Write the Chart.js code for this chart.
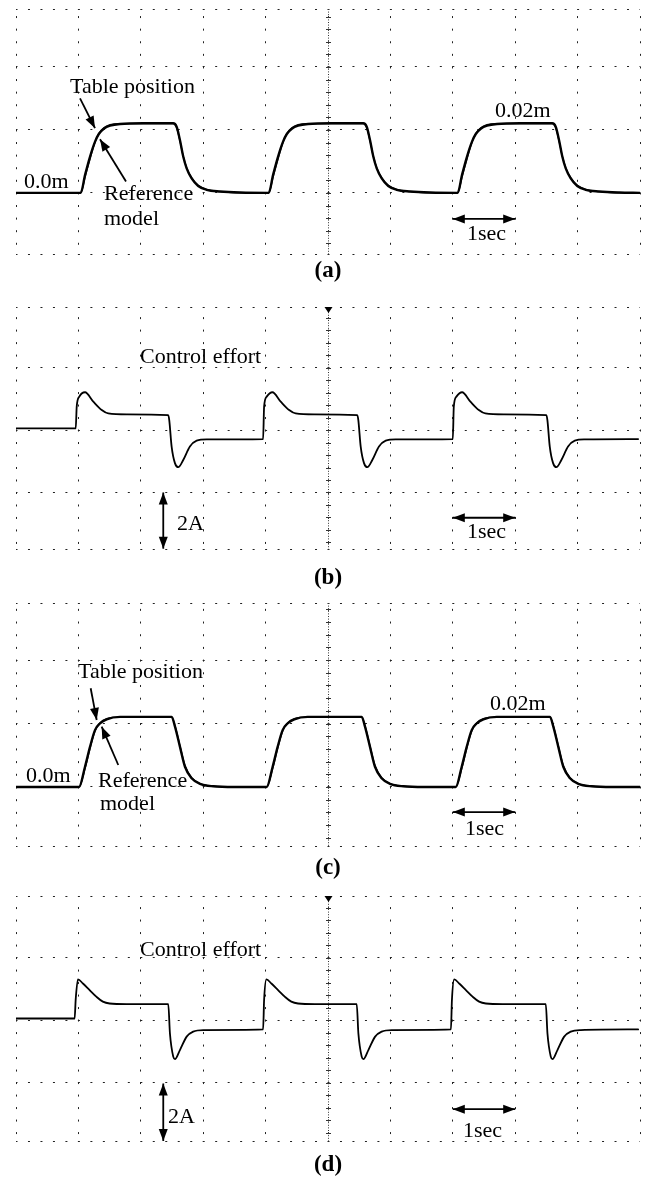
<!DOCTYPE html>
<html>
<head>
<meta charset="utf-8">
<script src="https://cdn.jsdelivr.net/npm/chart.js@4"></script>
<style>
  body { margin: 0; background: #fff; }
  #page { position: relative; width: 646px; height: 1182px; overflow: hidden; background: #fff;
          font-family: "Liberation Serif", "Times New Roman", serif; color: #000; }
  canvas { position: absolute; left: 0; }
  .lbl { position: absolute; font-size: 22px; line-height: 22px; white-space: nowrap; }
  .cap { position: absolute; font-size: 23px; line-height: 23px; font-weight: bold; white-space: nowrap; transform: translateX(-50%); }
</style>
</head>
<body>
<div id="page">
  <canvas id="pa" width="646" height="264" style="top:0px"></canvas>
  <canvas id="pb" width="646" height="262" style="top:297px"></canvas>
  <canvas id="pc" width="646" height="263" style="top:593px"></canvas>
  <canvas id="pd" width="646" height="265" style="top:886px"></canvas>
</div>
<script>
// time axis, 1 sec per division
const xTicks = [0, 1, 2, 3, 4, 5, 6, 7, 8, 9, 10];

// position traces (m); the 0.02m plateau sits about 1.1 div above 0.0m
const posPerDiv = 0.02 / 1.1;

// (a) edges (s) and edge shapes
const aRiseAt = [1.037, 4.05, 7.078];
const aFallAt = [2.52, 5.566, 8.595];
const aRiseDt = [0, 0.07, 0.15, 0.23, 0.29, 0.37, 0.47, 0.63, 1.0];
const aTableRise = [0, 0.0052, 0.0105, 0.0148, 0.0170, 0.0185, 0.0194, 0.0199, 0.0201];
const aRefRise = [0, 0.0045, 0.0098, 0.0146, 0.0171, 0.0188, 0.0197, 0.0200, 0.0200];
const aFallDt = [0, 0.054, 0.107, 0.16, 0.215, 0.295, 0.40, 0.535, 0.75, 1.07];
const aTableFall = [0.0201, 0.0191, 0.0153, 0.0105, 0.0071, 0.0042, 0.0020, 0.0009, 0.0004, 0.0001];
const aRefFall = [0.0200, 0.0188, 0.0150, 0.0106, 0.0073, 0.0044, 0.0022, 0.0010, 0.0004, 0];

// (c)
const cRiseAt = [1.01, 4.017, 7.047];
const cFallAt = [2.495, 5.54, 8.558];
const cRiseDt = [0, 0.096, 0.176, 0.256, 0.336, 0.443, 0.657, 1.0];
const cTableRise = [0, 0.0058, 0.0115, 0.0163, 0.0182, 0.0194, 0.0201, 0.0201];
const cRefRise = [0, 0.0052, 0.0110, 0.0160, 0.0184, 0.0196, 0.0200, 0.0200];
const cFallDt = [0, 0.053, 0.133, 0.213, 0.32, 0.454, 0.668, 1.0];
const cTableFall = [0.0201, 0.0173, 0.0115, 0.0058, 0.0025, 0.0009, 0.0002, 0];
const cRefFall = [0.0200, 0.0176, 0.0118, 0.0062, 0.0027, 0.0010, 0.0002, 0];

// control effort (A), 2A per division
const ampPerDiv = 2;

// (b)
const bInit = 0.05, bHigh = 0.48, bLow = -0.29;
const bUpAt = [0.957, 3.96, 7.0];
const bDownAt = [2.44, 5.47, 8.5];
const bUpDt = [0.016, 0.058, 0.149, 0.282, 0.417, 0.522, 0.817];
const bUpA = [0.75, 1.07, 1.21, 0.91, 0.64, 0.53, 0.50];
const bDownDt = [0.016, 0.054, 0.107, 0.16, 0.24, 0.347, 0.455, 0.615];
const bDownA = [0.32, -0.53, -1.06, -1.19, -0.96, -0.53, -0.34, -0.30];

// (d)
const dInit = 0.05, dHigh = 0.51, dLow = -0.30;
const dUpAt = [0.94, 3.96, 6.97];
const dDownAt = [2.44, 5.46, 8.49];
const dUpDt = [0.016, 0.053, 0.133, 0.24, 0.347, 0.452, 0.56, 0.83];
const dUpA = [0.64, 1.30, 1.17, 0.96, 0.75, 0.59, 0.53, 0.51];
const dDownDt = [0.027, 0.08, 0.107, 0.187, 0.295, 0.40, 0.56];
const dDownA = [-0.43, -1.17, -1.25, -0.96, -0.53, -0.37, -0.32];

function buildPos(riseAt, fallAt, riseDt, riseM, fallDt, fallM) {
  const pts = [{ x: 0, y: 0 }];
  for (let i = 0; i < riseAt.length; i++) {
    riseDt.forEach((d, k) => pts.push({ x: riseAt[i] + d, y: riseM[k] }));
    fallDt.forEach((d, k) => pts.push({ x: fallAt[i] + d, y: fallM[k] }));
  }
  pts.push({ x: 10, y: 0 });
  return pts;
}

function buildAmp(init, upAt, upDt, upA, high, downAt, downDt, downA, low) {
  const pts = [{ x: 0, y: init }];
  let level = init;
  for (let i = 0; i < upAt.length; i++) {
    pts.push({ x: upAt[i], y: level });
    upDt.forEach((d, k) => pts.push({ x: upAt[i] + d, y: upA[k] }));
    pts.push({ x: downAt[i], y: high });
    downDt.forEach((d, k) => pts.push({ x: downAt[i] + d, y: downA[k] }));
    level = low;
  }
  pts.push({ x: 9.97, y: low });
  return pts;
}

function drawArrow(ctx, x1, y1, x2, y2, both) {
  const ang = Math.atan2(y2 - y1, x2 - x1);
  const head = (hx, hy, a) => {
    ctx.beginPath();
    ctx.moveTo(hx, hy);
    ctx.lineTo(hx - 12 * Math.cos(a) + 4.5 * Math.sin(a), hy - 12 * Math.sin(a) - 4.5 * Math.cos(a));
    ctx.lineTo(hx - 12 * Math.cos(a) - 4.5 * Math.sin(a), hy - 12 * Math.sin(a) + 4.5 * Math.cos(a));
    ctx.closePath();
    ctx.fill();
  };
  ctx.lineWidth = 1.8;
  ctx.beginPath();
  ctx.moveTo(x1, y1);
  ctx.lineTo(x2, y2);
  ctx.stroke();
  head(x2, y2, ang);
  if (both) head(x1, y1, ang + Math.PI);
}

// centre graticule, trigger mark and arrows
const scopeMarks = {
  id: 'scopeMarks',
  beforeDatasetsDraw(chart, args, opts) {
    const { ctx, chartArea: a, scales: { x, y } } = chart;
    ctx.save();
    ctx.strokeStyle = '#333';
    ctx.lineWidth = 1;
    const cx = Math.round(x.getPixelForValue(5)) + 0.5;
    ctx.setLineDash([1, 1.6]);
    ctx.beginPath();
    ctx.moveTo(cx, a.top);
    ctx.lineTo(cx, a.bottom);
    ctx.stroke();
    ctx.setLineDash([]);
    const y0 = y.getPixelForValue(0);
    const step = (y0 - y.getPixelForValue(opts.yDiv)) / 5;
    for (let k = -25; k <= 25; k++) {
      const py = Math.round(y0 + k * step) + 0.5;
      if (py < a.top || py > a.bottom) continue;
      ctx.beginPath();
      ctx.moveTo(cx - 2.5, py);
      ctx.lineTo(cx + 2.5, py);
      ctx.stroke();
    }
    if (opts.trigger) {
      ctx.fillStyle = '#000';
      ctx.beginPath();
      ctx.moveTo(cx - 4, a.top);
      ctx.lineTo(cx + 4, a.top);
      ctx.lineTo(cx, a.top + 6);
      ctx.closePath();
      ctx.fill();
    }
    ctx.restore();
  },
  afterDatasetsDraw(chart, args, opts) {
    const { ctx, scales: { x, y } } = chart;
    ctx.save();
    ctx.strokeStyle = '#000';
    ctx.fillStyle = '#000';
    (opts.arrows || []).forEach(ar => {
      drawArrow(ctx, x.getPixelForValue(ar.from[0]), y.getPixelForValue(ar.from[1]),
        x.getPixelForValue(ar.to[0]), y.getPixelForValue(ar.to[1]), ar.both);
    });
    ctx.restore();
  }
};

function scope(id, datasets, yMin, yMax, yTicks, yDiv, pad, marks) {
  return new Chart(document.getElementById(id), {
    type: 'line',
    data: { datasets: datasets },
    plugins: [scopeMarks],
    options: {
      responsive: false,
      animation: false,
      devicePixelRatio: 1,
      layout: { padding: pad },
      elements: { point: { radius: 0 }, line: { cubicInterpolationMode: 'monotone', borderCapStyle: 'round', borderJoinStyle: 'round' } },
      plugins: {
        legend: { display: false },
        tooltip: { enabled: false },
        scopeMarks: Object.assign({ yDiv: yDiv }, marks)
      },
      scales: {
        x: {
          type: 'linear', min: 0, max: 10,
          afterBuildTicks: s => { s.ticks = xTicks.map(v => ({ value: v })); },
          ticks: { display: false },
          grid: { color: '#222', lineWidth: 1, drawTicks: false },
          border: {
            display: false,
            dash: c => {
              const ys = c.chart.scales.y;
              const st = (ys.getPixelForValue(0) - ys.getPixelForValue(yDiv)) / 5;
              return [2, st - 2];
            },
            dashOffset: c => {
              const ys = c.chart.scales.y;
              const st = (ys.getPixelForValue(0) - ys.getPixelForValue(yDiv)) / 5;
              return -((ys.getPixelForValue(0) - ys.top) % st) + 0.5;
            }
          }
        },
        y: {
          type: 'linear', min: yMin, max: yMax,
          afterBuildTicks: s => { s.ticks = yTicks.map(v => ({ value: v })); },
          ticks: { display: false },
          grid: { color: '#222', lineWidth: 1, drawTicks: false },
          border: { display: false, dash: [2, 10.48], dashOffset: 0.5 }
        }
      }
    }
  });
}

function posSets(tableRise, tableFall, refRise, refFall, riseAt, fallAt, riseDt, fallDt) {
  return [
    { label: 'Table position', data: buildPos(riseAt, fallAt, riseDt, tableRise, fallDt, tableFall),
      borderColor: '#000', borderWidth: 2.4, fill: false },
    { label: 'Reference model', data: buildPos(riseAt, fallAt, riseDt, refRise, fallDt, refFall),
      borderColor: '#111', borderWidth: 1.3, fill: false }
  ];
}

// (a)
const aMin = -0.97 * posPerDiv, aMax = 2.92 * posPerDiv;
scope('pa', posSets(aTableRise, aTableFall, aRefRise, aRefFall, aRiseAt, aFallAt, aRiseDt, aFallDt),
  aMin, aMax, [aMin, 0, posPerDiv, 2 * posPerDiv, aMax], posPerDiv,
  { top: 9, bottom: 10, left: 16, right: 6 },
  { arrows: [
    { from: [1.026, 0.0273], to: [1.266, 0.0187] },
    { from: [1.763, 0.0033], to: [1.346, 0.0155] },
    { from: [7, -0.0075], to: [8, -0.0075], both: true }
  ] });

// (b)
scope('pb', [{ label: 'Control effort', data: buildAmp(bInit, bUpAt, bUpDt, bUpA, bHigh, bDownAt, bDownDt, bDownA, bLow),
    borderColor: '#000', borderWidth: 1.8, fill: false }],
  -3.81, 3.94, [-3.81, -2, 0, 2, 3.94], ampPerDiv,
  { top: 10, bottom: 10, left: 16, right: 6 },
  { trigger: true, arrows: [
    { from: [2.36, -2.0], to: [2.36, -3.8], both: true },
    { from: [7, -2.81], to: [8, -2.81], both: true }
  ] });

// (c)
const cMin = -0.93 * posPerDiv, cMax = 2.90 * posPerDiv;
scope('pc', posSets(cTableRise, cTableFall, cRefRise, cRefFall, cRiseAt, cFallAt, cRiseDt, cFallDt),
  cMin, cMax, [cMin, 0, posPerDiv, 2 * posPerDiv, cMax], posPerDiv,
  { top: 10, bottom: 10, left: 16, right: 6 },
  { arrows: [
    { from: [1.197, 0.0283], to: [1.293, 0.0192] },
    { from: [1.639, 0.0063], to: [1.373, 0.0173] },
    { from: [7, -0.0072], to: [8, -0.0072], both: true }
  ] });

// (d)
scope('pd', [{ label: 'Control effort', data: buildAmp(dInit, dUpAt, dUpDt, dUpA, dHigh, dDownAt, dDownDt, dDownA, dLow),
    borderColor: '#000', borderWidth: 1.8, fill: false }],
  -3.87, 3.97, [-3.87, -2, 0, 2, 3.97], ampPerDiv,
  { top: 10, bottom: 10, left: 16, right: 6 },
  { trigger: true, arrows: [
    { from: [2.36, -2.03], to: [2.36, -3.87], both: true },
    { from: [7, -2.85], to: [8, -2.85], both: true }
  ] });

// text labels: [text, left, baseline]
const page = document.getElementById('page');
function label(text, left, baseline) {
  const el = document.createElement('div');
  el.className = 'lbl';
  el.textContent = text;
  el.style.left = left + 'px';
  el.style.top = (baseline - 18.4) + 'px';
  page.appendChild(el);
}
function caption(text, centre, baseline) {
  const el = document.createElement('div');
  el.className = 'cap';
  el.textContent = text;
  el.style.left = centre + 'px';
  el.style.top = (baseline - 19.3) + 'px';
  page.appendChild(el);
}

label('Table position', 70, 93);
label('0.0m', 24, 188);
label('Reference', 104, 200);
label('model', 104, 225);
label('0.02m', 495, 117);
label('1sec', 467, 240);
caption('(a)', 328, 277);

label('Control effort', 140, 363);
label('2A', 177, 530);
label('1sec', 467, 538);
caption('(b)', 328, 584);

label('Table position', 78, 678);
label('0.0m', 26, 782);
label('Reference', 98, 787);
label('model', 100, 810);
label('0.02m', 490, 710);
label('1sec', 465, 835);
caption('(c)', 328, 874);

label('Control effort', 140, 956);
label('2A', 168, 1123);
label('1sec', 463, 1137);
caption('(d)', 328, 1171);
</script>
</body>
</html>
